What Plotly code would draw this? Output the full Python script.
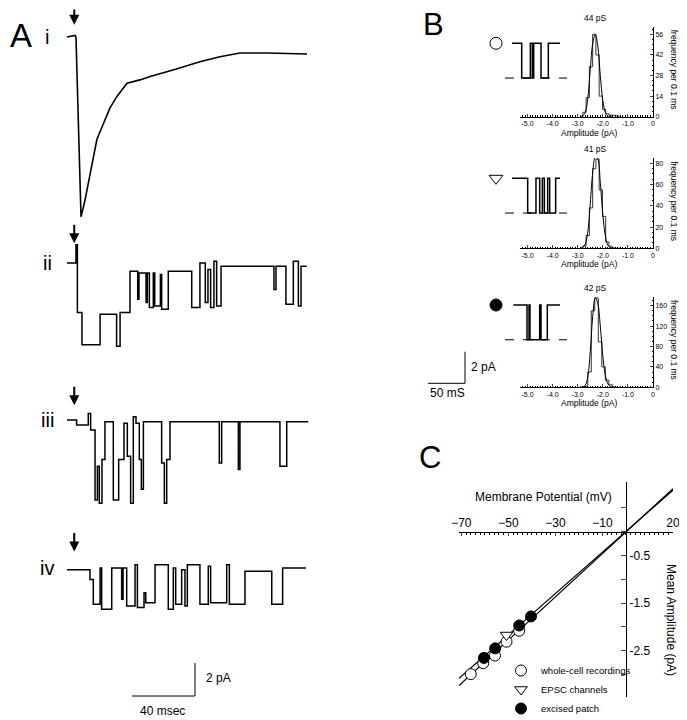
import plotly.graph_objects as go

W, H = 687, 720
PAGE_OFFSET = 8  # body margin of the html page shifts the figure
FONT = "Liberation Sans, Arial, sans-serif"

# ---------------- panel A: single-channel recordings (ms, pA) ----------------
# i: averaged EPSC, read point by point
T_I = [0, 5.1, 5.7, 8.9, 11.4, 13.3, 16.5, 19.0, 22.9, 27.3, 31.7, 38.1, 46.3,
       52.7, 67.3, 84.4, 97.1, 109.8, 127.0, 152.4]
I_I = [0, 0.1, 0, -10.9, -9.9, -9.0, -7.5, -6.2, -5.3, -4.3, -3.6, -2.8, -2.6,
       -2.4, -2.0, -1.5, -1.2, -0.97, -0.97, -1.03]

# ii-iv: step records, breakpoints (ms) and the level held after each (pA)
T_II = [0, 5.7, 6.6, 9.5, 21.0, 31.5, 33.7, 40.0, 44.9, 45.7, 50.2, 51.0, 52.3,
        54.8, 55.7, 59.3, 60.1, 64.3, 79.2, 84.4, 87.8, 89.5, 91.2, 93.3, 95.0,
        97.8, 131.4, 132.7, 139.0, 143.7, 146.9, 148.6, 152.2]
I_II = [0, 1.1, -3.0, -4.95, -3.1, -5.05, -3.0, -0.5, -2.2, -0.6, -2.4, -0.6,
        -2.7, -0.6, -2.6, -0.7, -2.8, -0.5, -2.7, 0, -2.4, -0.4, -2.7, 0.1, -2.6,
        -0.2, -1.6, -0.2, -2.5, 0.1, -2.6, -0.2]

T_III = [0, 6.1, 13.5, 15.0, 17.8, 19.3, 20.5, 22.2, 24.1, 29.4, 32.8, 36.2,
         38.3, 40.4, 42.1, 43.8, 45.9, 47.2, 48.5, 60.1, 61.8, 63.3, 65.4, 96.7,
         98.2, 108.8, 109.8, 135.2, 139.5, 153.2]
I_III = [0, -0.3, 0.4, -0.6, -4.85, -2.8, -5.05, -2.4, -0.1, -4.85, -2.4, -0.2,
         -2.2, -5.05, 0.2, -0.2, -2.4, -4.2, -0.1, -2.6, -5.05, -2.4, -0.1, -2.6,
         -0.1, -3.0, -0.1, -2.8, -0.1]

T_IV = [0, 14.6, 16.7, 21.0, 22.0, 28.4, 34.7, 35.6, 37.9, 43.2, 44.7, 48.9,
        50.0, 55.9, 64.3, 67.5, 69.0, 72.8, 74.9, 76.4, 84.4, 89.7, 91.2, 101.4,
        103.1, 113.0, 130.0, 136.9, 151.7]
I_IV = [-0.1, -0.7, -2.2, 0, -2.5, 0, -1.9, 0, -2.3, 0.2, -2.4, -1.5, -2.1, 0.2,
        -2.5, 0, -2.2, -0.1, -2.3, 0.2, -2.2, 0.1, -2.1, 0.2, -2.2, -0.2, -2.2, 0]

A_LABELS = ["i", "ii", "iii", "iv"]
STIM_MS = 4.6
SCALE_A_MS, SCALE_A_PA = 40, 2

# ---------------- panel B: excerpts and amplitude histograms ----------------
S1_T = [0, 13.1, 24.8, 27.5, 29.3, 39.2, 49.1, 64.9]
S1_I = [0, -2.2, 0, -2.2, 0, -2.2, 0]
S2_T = [0, 21.2, 32.4, 37.4, 41.0, 43.7, 48.2, 50.9, 59.0, 64.9]
S2_I = [0, -2.2, 0, -2.2, 0, -2.2, 0, -2.2, 0]
S3_T = [1.8, 20.3, 23.0, 24.3, 37.4, 39.2, 47.7, 64.9]
S3_I = [0, -2.2, 0, -2.2, 0, -2.2, 0]
OPEN_LEVEL = -2.2

HIST_X12 = [-2.86, -2.73, -2.60, -2.47, -2.34, -2.21, -2.08, -1.95, -1.82,
            -1.69, -1.56, -1.43, -1.30]
HIST_Y1 = [0, 3, 13, 34, 56, 42, 14, 5, 2, 1, 1, 0.5, 0]
HIST_Y2 = [0, 2, 12, 38, 75, 84, 55, 30, 6, 2, 0.5, 0, 0]
HIST_X3 = [-2.81, -2.67, -2.53, -2.39, -2.25, -2.11, -1.97, -1.83, -1.69,
           -1.55, -1.41]
HIST_Y3 = [0, 2, 30, 150, 175, 89, 40, 14, 5, 1, 0]

FIT_X = [-2.9, -2.8, -2.7, -2.6, -2.5, -2.4, -2.3, -2.2, -2.1, -2.0, -1.9,
         -1.8, -1.7, -1.6]
FIT_Y1 = [0, 0.5, 3, 12, 32, 50, 56, 48, 28, 11, 3, 0.5, 0, 0]
FIT_Y2 = [0, 1, 4, 15, 42, 72, 86, 84, 62, 32, 12, 3, 0.5, 0]
FIT_Y3 = [0, 0.5, 4, 20, 70, 140, 176, 165, 120, 62, 24, 7, 1.5, 0]

HIST_TITLES = ["44 pS", "41 pS", "42 pS"]
HIST_TICKS = [[0, 14, 28, 42, 56], [0, 20, 40, 60, 80], [0, 40, 80, 120, 160]]
AMP_TICKS = [-5, -4, -3, -2, -1, 0]
AMP_TICKTEXT = ["-5.0", "-4.0", "-3.0", "-2.0", "-1.0", "0"]
SCALE_B_MS, SCALE_B_PA = 50, 2

# ---------------- panel C: I-V relation ----------------
WC_V = [-66.0, -60.7, -55.7, -50.8, -45.4]
WC_I = [-2.99, -2.76, -2.60, -2.31, -2.08]
EPSC_V = [-50.8]
EPSC_I = [-2.17]
EX_V = [-60.4, -55.6, -45.4, -40.4]
EX_I = [-2.65, -2.45, -1.97, -1.78]
FIT_V = [-71, 20]
FIT_EX_I = [-3.08, 0.87]
FIT_WC_I = [-3.23, 0.90]
V_TICKS = [-70, -50, -30, -10, 20]
I_TICKS = [0.5, 0, -0.5, -1.0, -1.5, -2.0, -2.5, -3.0, -3.5]
I_TICKTEXT = ["", "", "-0.5", "", "-1.5", "", "-2.5", "", "-3.5"]


def px(x):
    # screen pixel -> paper fraction
    return (x - PAGE_OFFSET) / W


def py(y):
    return 1 - (y - PAGE_OFFSET) / H


def steps(breaks, levels, off):
    return breaks, [v + off for v in levels + levels[-1:]]


def label(text, x, y, size, angle=0, anchor="center"):
    return dict(text=text, x=px(x), y=py(y), xref="paper", yref="paper",
                showarrow=False, xanchor=anchor, yanchor="middle",
                textangle=angle, font=dict(family=FONT, size=size, color="black"))


fig = go.Figure()
annotations = []
black = "black"

# ---- panel A ----
A_T0_PX, A_MS_PX, A_PA_PX = 67, 1.575, 16.5
A_BASE_PX = [37, 263, 420, 568]
A_ARROW_LIFT = [0.75, 1.2, 0.9, 1.0]
a_off = [-(b - PAGE_OFFSET) / A_PA_PX for b in A_BASE_PX]

fig.add_trace(go.Scatter(x=T_I, y=[v + a_off[0] for v in I_I], mode="lines",
                         line=dict(color=black, width=1.6), xaxis="x", yaxis="y",
                         showlegend=False, hoverinfo="skip"))
for k, (tt, ii) in enumerate([(T_II, I_II), (T_III, I_III), (T_IV, I_IV)], start=1):
    xs, ys = steps(tt, ii, a_off[k])
    fig.add_trace(go.Scatter(x=xs, y=ys, mode="lines",
                             line=dict(color=black, width=1.5, shape="hv"),
                             xaxis="x", yaxis="y", showlegend=False, hoverinfo="skip"))

for k, name in enumerate(A_LABELS):
    annotations.append(label(name, 47, A_BASE_PX[k], 20))
    annotations.append(dict(x=STIM_MS, y=a_off[k] + A_ARROW_LIFT[k], xref="x", yref="y",
                            text="", showarrow=True, ax=0, ay=-20, arrowhead=2,
                            arrowsize=1, arrowwidth=2, arrowcolor=black))

sa_t = (195 - A_T0_PX) / A_MS_PX
sa_y = -(696 - PAGE_OFFSET) / A_PA_PX
fig.add_trace(go.Scatter(x=[sa_t - SCALE_A_MS, sa_t, sa_t],
                         y=[sa_y, sa_y, sa_y + SCALE_A_PA], mode="lines",
                         line=dict(color=black, width=1), xaxis="x", yaxis="y",
                         showlegend=False, hoverinfo="skip"))
annotations.append(label(f"{SCALE_A_PA} pA", 204, 678, 12, anchor="left"))
annotations.append(label(f"{SCALE_A_MS} msec", 162, 711, 12))
annotations.append(label("A", 8, 36, 33, anchor="left"))

# ---- panel B excerpts ----
B_T0_PX, B_MS_PX, B_PA_PX = 512, 0.74, 15.8
B_BASE_PX = [43.3, 178.3, 305]
b_off = [-(b - PAGE_OFFSET) / B_PA_PX for b in B_BASE_PX]
symbols = [("circle", "white"), ("triangle-down", "white"), ("circle", black)]
for k, (tt, ii) in enumerate([(S1_T, S1_I), (S2_T, S2_I), (S3_T, S3_I)]):
    xs, ys = steps(tt, ii, b_off[k])
    fig.add_trace(go.Scatter(x=xs, y=ys, mode="lines",
                             line=dict(color=black, width=1.5, shape="hv"),
                             xaxis="x2", yaxis="y2", showlegend=False, hoverinfo="skip"))
    fig.add_trace(go.Scatter(x=[(505 - B_T0_PX) / B_MS_PX, (567 - B_T0_PX) / B_MS_PX],
                             y=[b_off[k] + OPEN_LEVEL] * 2, mode="lines",
                             line=dict(color=black, width=1, dash="dash"),
                             xaxis="x2", yaxis="y2", showlegend=False, hoverinfo="skip"))
    sym, fill = symbols[k]
    fig.add_trace(go.Scatter(x=[(496 - B_T0_PX) / B_MS_PX], y=[b_off[k]], mode="markers",
                             marker=dict(symbol=sym, size=12, color=fill,
                                         line=dict(color=black, width=1)),
                             xaxis="x2", yaxis="y2", showlegend=False, hoverinfo="skip"))

sb_t = (465 - B_T0_PX) / B_MS_PX
sb_y = -(383.3 - PAGE_OFFSET) / B_PA_PX
fig.add_trace(go.Scatter(x=[sb_t - SCALE_B_MS, sb_t, sb_t],
                         y=[sb_y, sb_y, sb_y + SCALE_B_PA], mode="lines",
                         line=dict(color=black, width=1), xaxis="x2", yaxis="y2",
                         showlegend=False, hoverinfo="skip"))
annotations.append(label(f"{SCALE_B_PA} pA", 469, 367, 12, anchor="left"))
annotations.append(label(f"{SCALE_B_MS} mS", 447, 393, 12))
annotations.append(label("B", 433, 24, 31))

# ---- panel B histograms ----
H_TOP_PX = [26.7, 158, 296.7]
H_BOT_PX = [116.7, 248.3, 387.3]
H_YMAX = [61.2, 85, 177.6]
hists = [(HIST_X12, HIST_Y1, FIT_Y1), (HIST_X12, HIST_Y2, FIT_Y2),
         (HIST_X3, HIST_Y3, FIT_Y3)]
axis_layout = {}
for k, (hx, hy, fy) in enumerate(hists):
    n = k + 3
    fig.add_trace(go.Scatter(x=hx, y=hy, mode="lines",
                             line=dict(color="#333333", width=1, shape="hvh"),
                             xaxis=f"x{n}", yaxis=f"y{n}", showlegend=False,
                             hoverinfo="skip"))
    fig.add_trace(go.Scatter(x=FIT_X, y=fy, mode="lines",
                             line=dict(color=black, width=1, shape="spline"),
                             xaxis=f"x{n}", yaxis=f"y{n}", showlegend=False,
                             hoverinfo="skip"))
    axis_layout[f"xaxis{n}"] = dict(
        domain=[px(520), px(653)], range=[-5.3, 0], anchor=f"y{n}",
        tickvals=AMP_TICKS, ticktext=AMP_TICKTEXT, ticks="inside", ticklen=3,
        minor=dict(dtick=0.1, tick0=0, ticks="inside", ticklen=1.5, tickcolor=black),
        showline=True, linecolor=black, linewidth=1, showgrid=False, zeroline=False,
        tickfont=dict(family=FONT, size=7, color=black), fixedrange=True,
        automargin=False)
    step = HIST_TICKS[k][1]
    axis_layout[f"yaxis{n}"] = dict(
        domain=[py(H_BOT_PX[k]), py(H_TOP_PX[k])], range=[0, H_YMAX[k]],
        anchor=f"x{n}", side="right", tickvals=HIST_TICKS[k], ticks="inside",
        ticklen=3, minor=dict(dtick=step / 4, tick0=0, ticks="inside", ticklen=1.5,
                              tickcolor=black),
        showline=True, linecolor=black, linewidth=1, showgrid=False, zeroline=False,
        tickfont=dict(family=FONT, size=7, color=black), fixedrange=True,
        automargin=False)
    annotations.append(label(HIST_TITLES[k], 595, H_TOP_PX[k] - 9, 8.5))
    annotations.append(label("Amplitude (pA)", 589, H_BOT_PX[k] + 16, 8.5))
    annotations.append(label("frequency per 0.1 ms", 674,
                             (H_TOP_PX[k] + H_BOT_PX[k]) / 2 - 2, 8.5, angle=90))

# ---- panel C ----
for fi in (FIT_EX_I, FIT_WC_I):
    fig.add_trace(go.Scatter(x=FIT_V, y=fi, mode="lines",
                             line=dict(color=black, width=1.2), xaxis="x6", yaxis="y6",
                             showlegend=False, hoverinfo="skip"))
series = [
    ("whole-cell recordings", WC_V, WC_I, "circle", "white"),
    ("EPSC channels", EPSC_V, EPSC_I, "triangle-down", "white"),
    ("excised patch", EX_V, EX_I, "circle", black),
]
for name, vv, ii, sym, fill in series:
    fig.add_trace(go.Scatter(x=vv, y=ii, mode="markers", name=name,
                             marker=dict(symbol=sym, size=11, color=fill,
                                         line=dict(color=black, width=1)),
                             xaxis="x6", yaxis="y6", hoverinfo="skip"))

C_ZERO_X, C_ZERO_Y = 626, 531.5
annotations.append(label("Membrane Potential (mV)", 543, 497, 12))
annotations.append(label("Mean Amplitude (pA)", 671, 620, 12, angle=90))
annotations.append(label("C", 430, 457, 31))

fig.update_layout(
    width=W, height=H, margin=dict(l=0, r=0, t=0, b=0, pad=0, autoexpand=False),
    paper_bgcolor="white", plot_bgcolor="rgba(0,0,0,0)",
    font=dict(family=FONT, color=black),
    xaxis=dict(domain=[px(40), px(330)],
               range=[(40 - A_T0_PX) / A_MS_PX, (330 - A_T0_PX) / A_MS_PX],
               visible=False, fixedrange=True, automargin=False),
    yaxis=dict(domain=[0, 1], range=[-H / A_PA_PX, 0], visible=False,
               fixedrange=True, automargin=False),
    xaxis2=dict(domain=[px(420), px(580)],
                range=[(420 - B_T0_PX) / B_MS_PX, (580 - B_T0_PX) / B_MS_PX],
                anchor="y2", visible=False, fixedrange=True, automargin=False),
    yaxis2=dict(domain=[0, 1], range=[-H / B_PA_PX, 0], anchor="x2",
                visible=False, fixedrange=True, automargin=False),
    xaxis6=dict(domain=[px(459), px(673)], range=[-71, 20], anchor="free",
                position=py(C_ZERO_Y), side="top", tickvals=V_TICKS,
                ticks="inside", ticklen=3,
                minor=dict(dtick=2, tick0=0, ticks="inside", ticklen=2, tickcolor=black),
                showline=True, linecolor=black, linewidth=1, showgrid=False,
                zeroline=False, tickfont=dict(family=FONT, size=12, color=black),
                fixedrange=True, automargin=False),
    yaxis6=dict(domain=[py(697), py(482)], range=[-3.47, 1.04], anchor="free",
                position=px(C_ZERO_X), side="right", tickvals=I_TICKS,
                ticktext=I_TICKTEXT, ticks="inside", ticklen=5,
                showline=True, linecolor=black, linewidth=1, showgrid=False,
                zeroline=False, tickfont=dict(family=FONT, size=12, color=black),
                fixedrange=True, automargin=False),
    legend=dict(x=px(501), y=py(656), xanchor="left", yanchor="top",
                font=dict(family=FONT, size=9.5, color=black),
                bgcolor="rgba(0,0,0,0)", tracegroupgap=0),
    annotations=annotations,
    **axis_layout,
)

fig.write_html("out.html")
